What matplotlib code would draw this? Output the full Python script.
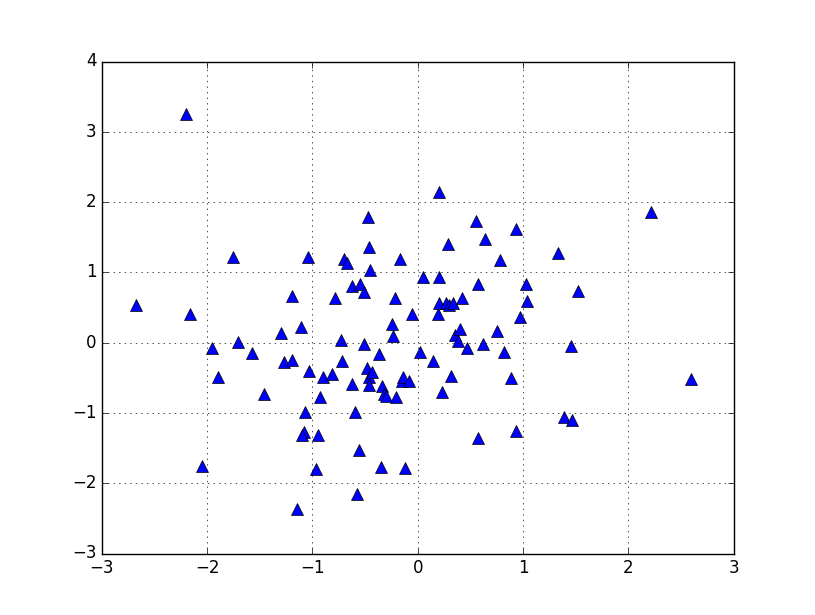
import numpy as np
import matplotlib
matplotlib.use('Agg')
import matplotlib.pyplot as plt

plt.style.use('classic')

x = [-2.20, -2.68, -2.16, -1.75, -1.95, -1.90, -1.71, -1.57, -1.46, -2.05,
     -1.19, -1.30, -1.27, -1.19, -1.11, -1.04, -1.03, -1.07, -1.08, -1.10,
     -1.15, -0.97, -0.95, -0.93, -0.90, -0.81, -0.79, -0.70, -0.67, -0.73,
     -0.72, -0.62, -0.62, -0.60, -0.58, -0.56, -0.55, -0.51, -0.51, -0.47,
     -0.46, -0.45, -0.48, -0.46, -0.46, -0.43, -0.37, -0.35, -0.34, -0.32,
     -0.30, -0.24, -0.23, -0.22, -0.21, -0.17, -0.15, -0.14, -0.12, -0.08,
     -0.05, 0.02, 0.05, 0.15, 0.20, 0.20, 0.19, 0.20, 0.23, 0.29,
     0.27, 0.30, 0.34, 0.35, 0.32, 0.38, 0.40, 0.42, 0.47, 0.55,
     0.57, 0.57, 0.62, 0.64, 0.75, 0.78, 0.82, 0.89, 0.93, 0.93,
     0.97, 1.03, 1.04, 1.33, 1.39, 1.47, 1.46, 1.52, 2.22, 2.60]
y = [3.26, 0.54, 0.41, 1.22, -0.08, -0.49, 0.01, -0.15, -0.73, -1.75,
     0.66, 0.14, -0.28, -0.24, 0.22, 1.22, -0.40, -0.99, -1.27, -1.31,
     -2.37, -1.80, -1.31, -0.77, -0.49, -0.45, 0.63, 1.19, 1.13, 0.04,
     -0.26, 0.80, -0.59, -0.99, -2.16, -1.53, 0.83, 0.72, -0.02, 1.79,
     1.36, 1.03, -0.36, -0.49, -0.60, -0.42, -0.16, -1.77, -0.62, -0.73,
     -0.76, 0.26, 0.09, 0.63, -0.78, 1.19, -0.55, -0.49, -1.79, -0.55,
     0.41, -0.13, 0.94, -0.26, 2.14, 0.94, 0.41, 0.57, -0.70, 1.40,
     0.56, 0.53, 0.57, 0.11, -0.48, 0.02, 0.19, 0.64, -0.08, 1.73,
     0.83, -1.35, -0.02, 1.48, 0.16, 1.17, -0.14, -0.51, 1.61, -1.26,
     0.36, 0.83, 0.59, 1.27, -1.06, -1.10, -0.05, 0.73, 1.86, -0.52]

fig = plt.figure(figsize=(8.15, 6.15), dpi=100)
ax = fig.add_subplot(111)
ax.plot(x, y, '^', color='b', markeredgecolor='k', markersize=9)
ax.set_xlim(-3, 3)
ax.set_ylim(-3, 4)
ax.grid(True)
fig.savefig('out.png', dpi=100)
